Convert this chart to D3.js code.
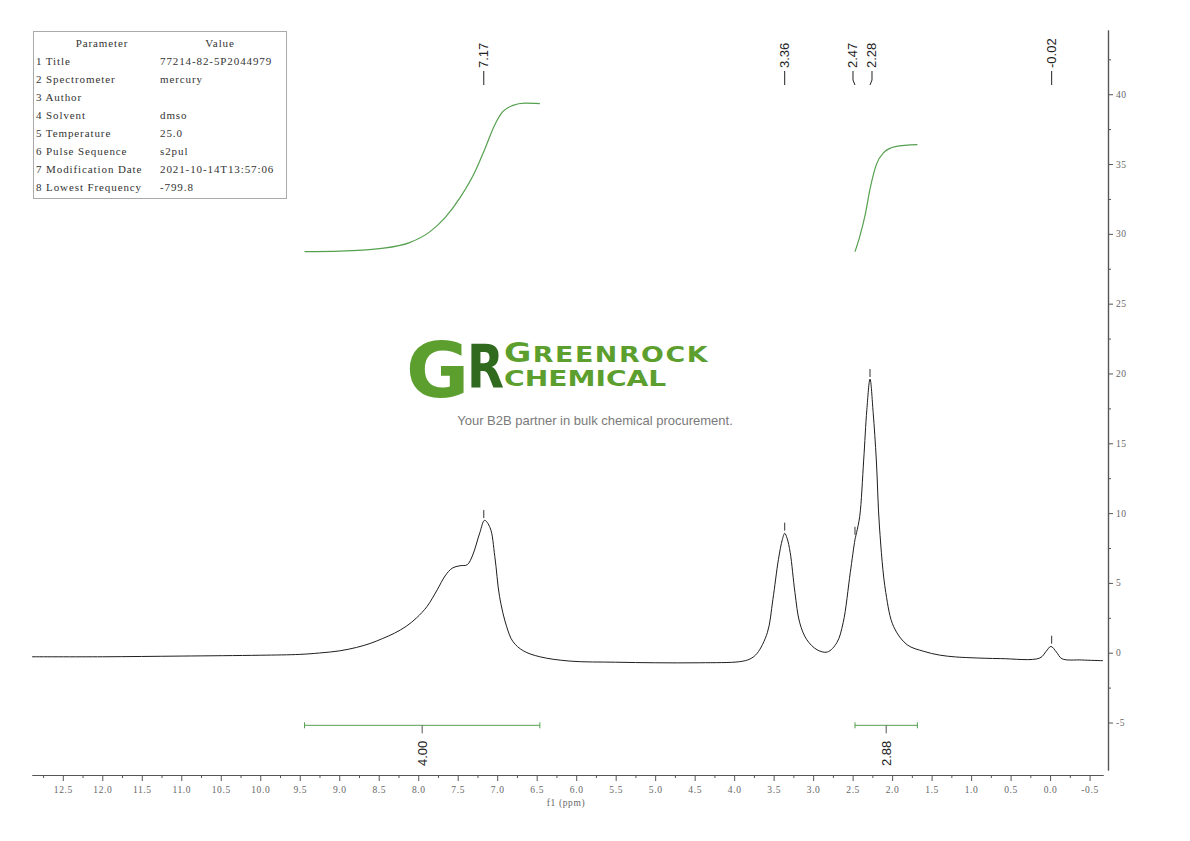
<!DOCTYPE html>
<html>
<head>
<meta charset="utf-8">
<script src="https://cdn.jsdelivr.net/npm/d3@7"></script>
<style>
  body { margin: 0; background: #fff; }
  svg { display: block; }
</style>
</head>
<body>
<svg id="chart" width="1190" height="841"></svg>
<script>
// ---- data ----
const specPpm = [12.89, 12.0, 11.0, 10.0, 9.5, 9.25, 9.0, 8.78, 8.6, 8.45, 8.3, 8.15, 8.02, 7.89, 7.76, 7.66, 7.57, 7.47, 7.38, 7.31, 7.22, 7.16, 7.09, 7.03, 6.97, 6.88, 6.80, 6.67, 6.46, 6.08, 5.5, 5.0, 4.43, 3.93, 3.8, 3.71, 3.58, 3.51, 3.44, 3.39, 3.36, 3.33, 3.29, 3.23, 3.17, 3.08, 2.95, 2.82, 2.70, 2.62, 2.53, 2.47, 2.45, 2.41, 2.36, 2.32, 2.28, 2.24, 2.20, 2.16, 2.08, 1.98, 1.81, 1.6, 1.4, 1.2, 1.0, 0.63, 0.13, 0.05, -0.01, -0.08, -0.15, -0.4, -0.67];
const specInt = [-0.29, -0.29, -0.24, -0.18, -0.12, -0.02, 0.13, 0.38, 0.68, 1.02, 1.4, 1.9, 2.5, 3.3, 4.5, 5.5, 6.05, 6.23, 6.3, 7.0, 8.6, 9.48, 8.95, 6.88, 4.01, 1.86, 0.79, 0.14, -0.29, -0.60, -0.68, -0.72, -0.72, -0.64, -0.45, -0.05, 1.43, 3.80, 6.66, 8.1, 8.55, 8.2, 7.16, 4.30, 2.15, 0.93, 0.21, 0.05, 0.72, 2.15, 5.73, 8.1, 8.6, 9.77, 13.8, 17.4, 19.6, 17.2, 13.8, 9.0, 4.3, 1.86, 0.57, 0.1, -0.17, -0.3, -0.36, -0.42, -0.38, 0.1, 0.45, 0.05, -0.43, -0.52, -0.57];

const int1Ppm = [9.44, 8.99, 8.49, 8.11, 7.85, 7.66, 7.47, 7.28, 7.16, 7.03, 6.93, 6.81, 6.65, 6.46];
const int1Val = [28.72, 28.76, 28.94, 29.37, 30.16, 31.16, 32.59, 34.46, 36.03, 37.82, 38.75, 39.18, 39.36, 39.33];
const int2Ppm = [2.47, 2.41, 2.34, 2.28, 2.20, 2.11, 1.96, 1.68];
const int2Val = [28.72, 29.8, 31.4, 33.2, 34.96, 35.8, 36.25, 36.39];

const integFrom = [9.44, 2.47];
const integTo = [6.46, 1.68];
const integLabels = ["4.00", "2.88"];

const peakPpm = [7.17, 3.36, 2.47, 2.28, -0.02];
const peakHeight = [9.5, 8.6, 8.3, 19.6, 0.5];
const peakLabels = ["7.17", "3.36", "2.47", "2.28", "-0.02"];

const xTicks = [12.5, 12.0, 11.5, 11.0, 10.5, 10.0, 9.5, 9.0, 8.5, 8.0, 7.5, 7.0, 6.5, 6.0, 5.5, 5.0, 4.5, 4.0, 3.5, 3.0, 2.5, 2.0, 1.5, 1.0, 0.5, 0.0, -0.5];
const yTicks = [40, 35, 30, 25, 20, 15, 10, 5, 0, -5];

const paramNames = ["Title", "Spectrometer", "Author", "Solvent", "Temperature", "Pulse Sequence", "Modification Date", "Lowest Frequency"];
const paramValues = ["77214-82-5P2044979", "mercury", "", "dmso", "25.0", "s2pul", "2021-10-14T13:57:06", "-799.8"];

// ---- setup ----
const svg = d3.select("#chart");
svg.append("rect").attr("width", 1190).attr("height", 841).attr("fill", "#fff");

const x = d3.scaleLinear().domain([12.89, -0.67]).range([32, 1103]);
const y = d3.scaleLinear().domain([-8.4, 44.6]).range([770, 30]);

const serifFont = "'Liberation Serif', 'DejaVu Serif', serif";
const sansFont = "'Liberation Sans', Arial, sans-serif";
const logoFont = "'DejaVu Sans', sans-serif";
const green = "#55a04f";

// ---- watermark logo ----
const logo = svg.append("g");
logo.append("text")
  .attr("x", 406).attr("y", 397)
  .attr("font-family", logoFont).attr("font-weight", "bold")
  .attr("font-size", 77).attr("fill", "#5d9f2f")
  .text("G");
logo.append("text")
  .attr("transform", "translate(467,388) scale(0.8,1)")
  .attr("font-family", logoFont).attr("font-weight", "bold")
  .attr("font-size", 60).attr("fill", "#2f6a1f")
  .text("R");

const words = logo.append("text")
  .attr("transform", "translate(504,0) scale(1.28,1)")
  .attr("font-family", logoFont).attr("font-weight", "bold")
  .attr("fill", "#5d9f2f");
words.append("tspan").attr("x", 0).attr("y", 362).attr("font-size", 26)
  .attr("letter-spacing", 1.2).text("G");
words.append("tspan").attr("font-size", 21).attr("letter-spacing", 1.2).text("REENROCK");
words.append("tspan").attr("x", 0).attr("y", 386).attr("font-size", 22)
  .attr("letter-spacing", 0).text("CHEMICAL");

logo.append("text")
  .attr("x", 595).attr("y", 425)
  .attr("text-anchor", "middle")
  .attr("font-family", sansFont).attr("font-size", 13)
  .attr("fill", "#7a7a7a")
  .text("Your B2B partner in bulk chemical procurement.");

// ---- spectrum ----
const spec = specPpm.map((p, i) => ({ ppm: p, v: specInt[i] }));
const specLine = d3.line().x(d => x(d.ppm)).y(d => y(d.v)).curve(d3.curveCatmullRom.alpha(0.5));
const intLine = d3.line().x(d => x(d.ppm)).y(d => y(d.v)).curve(d3.curveMonotoneX);

svg.append("path")
  .datum(spec)
  .attr("d", specLine)
  .attr("fill", "none")
  .attr("stroke", "#1e1e1e")
  .attr("stroke-width", 1);

// integral curves
[[int1Ppm, int1Val], [int2Ppm, int2Val]].forEach(([pp, vv]) => {
  svg.append("path")
    .datum(pp.map((p, i) => ({ ppm: p, v: vv[i] })))
    .attr("d", intLine)
    .attr("fill", "none")
    .attr("stroke", green)
    .attr("stroke-width", 1.2);
});

// peak markers just above each peak top
svg.append("g").selectAll("line")
  .data(peakPpm)
  .join("line")
  .attr("x1", d => x(d)).attr("x2", d => x(d))
  .attr("y1", (d, i) => y(peakHeight[i]) - 2)
  .attr("y2", (d, i) => y(peakHeight[i]) - 10)
  .attr("stroke", "#333").attr("stroke-width", 1);

// peak labels at the top, spread apart when crowded
const labelX = peakPpm.map(p => x(p));
const minGap = 19;
for (let i = 1; i < labelX.length; i++) {
  const gap = labelX[i] - labelX[i - 1];
  if (gap < minGap) {
    const push = (minGap - gap) / 2;
    labelX[i - 1] -= push;
    labelX[i] += push;
  }
}
const pl = svg.append("g").selectAll("g")
  .data(peakPpm)
  .join("g");
pl.append("path")
  .attr("d", (d, i) => `M${labelX[i]},71 L${labelX[i]},80 L${x(d)},85`)
  .attr("fill", "none").attr("stroke", "#222").attr("stroke-width", 1);
pl.append("text")
  .attr("transform", (d, i) => `translate(${labelX[i]},68) rotate(-90)`)
  .attr("dominant-baseline", "central")
  .attr("font-family", sansFont).attr("font-size", 13)
  .attr("fill", "#222")
  .text((d, i) => peakLabels[i]);

// integration brackets
const bracketY = y(-5.2);
const ig = svg.append("g").selectAll("g")
  .data(integFrom)
  .join("g")
  .attr("stroke", green).attr("stroke-width", 1);
ig.append("line")
  .attr("x1", d => x(d)).attr("x2", (d, i) => x(integTo[i]))
  .attr("y1", bracketY).attr("y2", bracketY);
ig.append("line")
  .attr("x1", d => x(d)).attr("x2", d => x(d))
  .attr("y1", bracketY - 3).attr("y2", bracketY + 3);
ig.append("line")
  .attr("x1", (d, i) => x(integTo[i])).attr("x2", (d, i) => x(integTo[i]))
  .attr("y1", bracketY - 3).attr("y2", bracketY + 3);
ig.append("line")
  .attr("x1", (d, i) => x((d + integTo[i]) / 2)).attr("x2", (d, i) => x((d + integTo[i]) / 2))
  .attr("y1", bracketY).attr("y2", bracketY + 8)
  .attr("stroke", "#555");
ig.append("text")
  .attr("transform", (d, i) => `translate(${x((d + integTo[i]) / 2)},766) rotate(-90)`)
  .attr("dominant-baseline", "central")
  .attr("stroke", "none")
  .attr("font-family", sansFont).attr("font-size", 13)
  .attr("fill", "#222")
  .text((d, i) => integLabels[i]);

// ---- axes ----
function styleAxis(g) {
  g.select(".domain").attr("stroke", "#555").attr("stroke-width", 1.2);
  g.selectAll(".tick line").attr("stroke", "#555");
  g.selectAll(".tick text")
    .attr("font-family", serifFont).attr("font-size", 9.5)
    .attr("letter-spacing", 0.6)
    .attr("fill", "#666");
}

const xMinor = [12.75].concat(xTicks.slice(1).map((t, i) => (t + xTicks[i]) / 2));
svg.append("g")
  .attr("transform", "translate(0,775)")
  .call(d3.axisBottom(x).tickValues(xMinor).tickSize(3).tickSizeOuter(0).tickFormat(""))
  .call(styleAxis);
svg.append("g")
  .attr("transform", "translate(0,775)")
  .call(d3.axisBottom(x).tickValues(xTicks).tickSize(6).tickSizeOuter(0).tickPadding(5)
    .tickFormat(d => d.toFixed(1)))
  .call(styleAxis);

svg.append("text")
  .attr("x", 566).attr("y", 806)
  .attr("text-anchor", "middle")
  .attr("font-family", serifFont).attr("font-size", 9.5)
  .attr("letter-spacing", 0.6)
  .attr("fill", "#666")
  .text("f1 (ppm)");

const yMinor = [42.5].concat(yTicks.slice(1).map((t, i) => (t + yTicks[i]) / 2));
svg.append("g")
  .attr("transform", "translate(1108,0)")
  .call(d3.axisRight(y).tickValues(yMinor).tickSize(3).tickSizeOuter(0).tickFormat(""))
  .call(styleAxis);
svg.append("g")
  .attr("transform", "translate(1108,0)")
  .call(d3.axisRight(y).tickValues(yTicks).tickSize(5).tickSizeOuter(0).tickPadding(3)
    .tickFormat(d => String(d)))
  .call(styleAxis);

// ---- parameter table ----
const table = svg.append("g")
  .attr("font-family", serifFont).attr("font-size", 11)
  .attr("letter-spacing", 0.9).attr("fill", "#333");
table.append("rect")
  .attr("x", 33.5).attr("y", 31.5).attr("width", 253).attr("height", 167)
  .attr("fill", "#fff").attr("stroke", "#aaa");
table.append("text").attr("x", 102).attr("y", 47).attr("text-anchor", "middle").text("Parameter");
table.append("text").attr("x", 220).attr("y", 47).attr("text-anchor", "middle").text("Value");
const rows = table.selectAll("g.row")
  .data(paramNames)
  .join("g").attr("class", "row")
  .attr("transform", (d, i) => `translate(0,${65 + i * 18})`);
rows.append("text").attr("x", 36).text((d, i) => `${i + 1} ${d}`);
rows.append("text").attr("x", 160).text((d, i) => paramValues[i]);
</script>
</body>
</html>
